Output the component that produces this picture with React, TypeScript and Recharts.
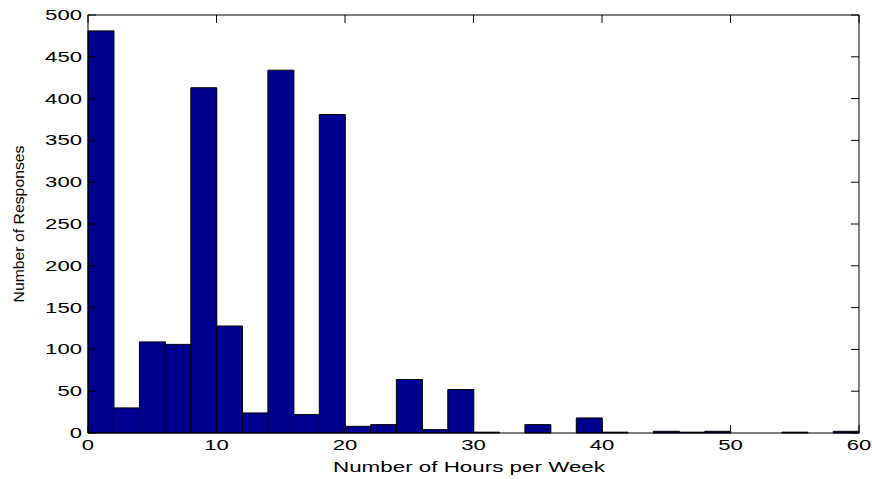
import React from 'react';
import { ComposedChart, Bar, Line, XAxis, YAxis } from 'recharts';

// histogram bins are 2 hours wide, values are bin centres
const hourBins = [1, 3, 5, 7, 9, 11, 13, 15, 17, 19, 21, 23, 25, 27, 29, 31, 33, 35, 37, 39, 41, 43, 45, 47, 49, 51, 53, 55, 57, 59];
const responses = [481, 30, 109, 106, 413, 128, 24, 434, 22, 381, 8, 10, 64, 4, 52, 1, 0, 10, 0, 18, 1, 0, 2, 1, 2, 0, 0, 1, 0, 2];
const xTicks = [0, 10, 20, 30, 40, 50, 60];
const yTicks = [0, 50, 100, 150, 200, 250, 300, 350, 400, 450, 500];

const data = hourBins.map((h, i) => ({ hours: h, count: responses[i] }));

const FONT = '"Liberation Sans", Arial, sans-serif';
const TICK_LEN = 8;
const DIGIT_W = 12.3;

const BottomTick = (props: any) => {
  const { x, y, payload } = props;
  const label = String(payload.value);
  return (
    <g>
      <line x1={x} y1={y} x2={x} y2={y - TICK_LEN} stroke="#000" />
      <text x={x} y={y + 17} textAnchor="middle" fontFamily={FONT} fontSize={14} fill="#000"
        textLength={DIGIT_W * label.length} lengthAdjust="spacingAndGlyphs">
        {label}
      </text>
    </g>
  );
};

const TopTick = (props: any) => {
  const { x, y } = props;
  return <line x1={x} y1={y} x2={x} y2={y + TICK_LEN} stroke="#000" />;
};

const LeftTick = (props: any) => {
  const { x, y, payload } = props;
  const label = String(payload.value);
  return (
    <g>
      <line x1={x} y1={y} x2={x + TICK_LEN} y2={y} stroke="#000" />
      <text x={x - 6} y={y + 5} textAnchor="end" fontFamily={FONT} fontSize={14} fill="#000"
        textLength={DIGIT_W * label.length} lengthAdjust="spacingAndGlyphs">
        {label}
      </text>
    </g>
  );
};

const RightTick = (props: any) => {
  const { x, y } = props;
  return <line x1={x} y1={y} x2={x - TICK_LEN} y2={y} stroke="#000" />;
};

export default function App() {
  return (
    <div style={{ position: 'absolute', left: 0, top: 0, width: 872, height: 479, background: '#fff' }}>
      <ComposedChart
        width={872}
        height={479}
        data={data}
        margin={{ top: 14, right: 12, bottom: 0, left: 0 }}
        barCategoryGap={0}
        barGap={0}
      >
        <XAxis
          dataKey="hours"
          type="number"
          domain={[0, 60]}
          ticks={xTicks}
          interval={0}
          height={46}
          tickSize={0}
          tickMargin={0}
          tickLine={false}
          axisLine={{ stroke: '#000' }}
          tick={<BottomTick />}
        />
        <XAxis
          xAxisId="top"
          dataKey="hours"
          orientation="top"
          type="number"
          domain={[0, 60]}
          ticks={xTicks}
          interval={0}
          height={1}
          tickSize={0}
          tickMargin={0}
          tickLine={false}
          axisLine={{ stroke: '#000' }}
          tick={<TopTick />}
        />
        <YAxis
          type="number"
          domain={[0, 500]}
          ticks={yTicks}
          interval={0}
          width={88}
          tickSize={0}
          tickMargin={0}
          tickLine={false}
          axisLine={{ stroke: '#000' }}
          tick={<LeftTick />}
        />
        <YAxis
          yAxisId="right"
          orientation="right"
          type="number"
          domain={[0, 500]}
          ticks={yTicks}
          interval={0}
          width={1}
          tickSize={0}
          tickMargin={0}
          tickLine={false}
          axisLine={{ stroke: '#000' }}
          tick={<RightTick />}
        />
        <Bar dataKey="count" fill="#000090" stroke="#000" strokeWidth={1} isAnimationActive={false} />
        {/* invisible series so the top and right frame axes get drawn */}
        <Line xAxisId="top" yAxisId="right" dataKey="count" stroke="none" dot={false} activeDot={false}
          legendType="none" isAnimationActive={false} />
        <text x={469} y={472} textAnchor="middle" fontFamily={FONT} fontSize={15} fill="#000"
          textLength={272} lengthAdjust="spacingAndGlyphs">
          Number of Hours per Week
        </text>
        <text x={24} y={224} transform="rotate(-90 24 224)" textAnchor="middle" fontFamily={FONT} fontSize={15} fill="#000"
          textLength={157} lengthAdjust="spacingAndGlyphs">
          Number of Responses
        </text>
      </ComposedChart>
    </div>
  );
}
